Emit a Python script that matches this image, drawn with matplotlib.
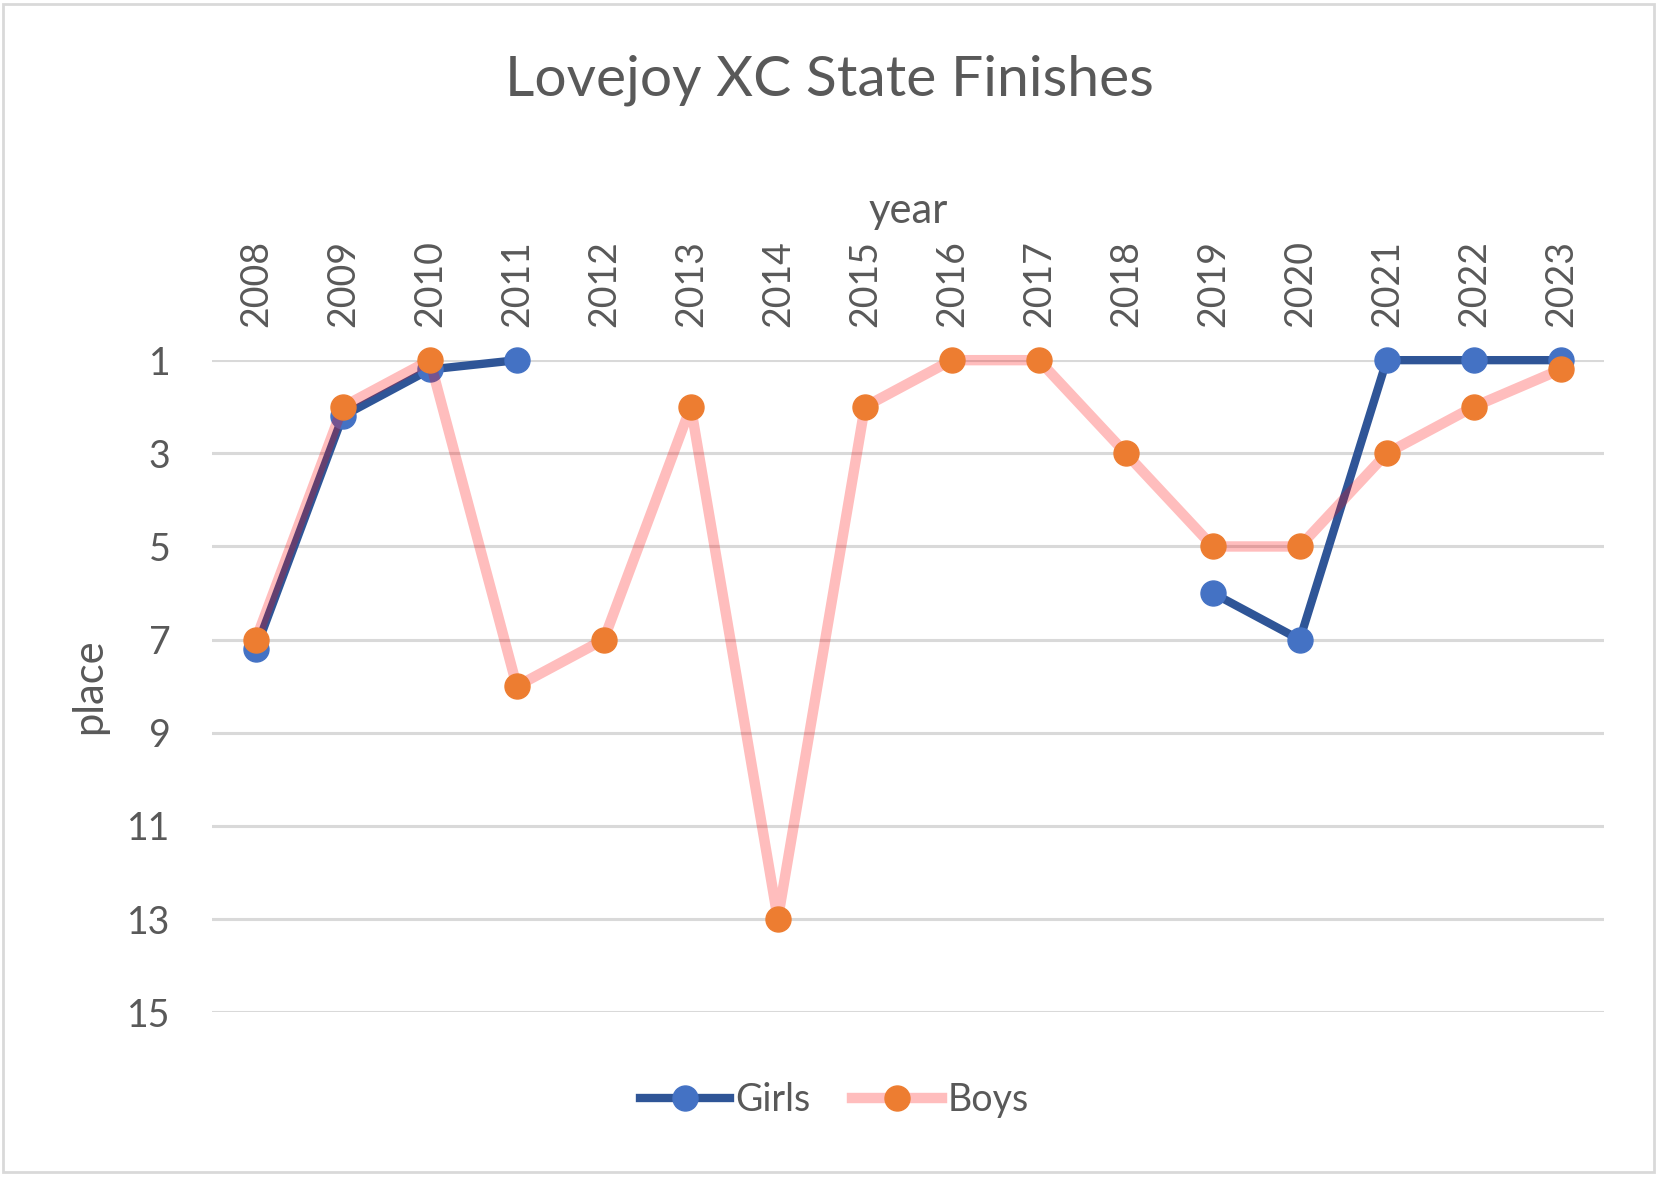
import numpy as np
import matplotlib
matplotlib.use("Agg")
import matplotlib.pyplot as plt
from matplotlib.patches import Rectangle

years = [str(y) for y in range(2008, 2024)]
girls = [7.2, 2.2, 1.2, 1, np.nan, np.nan, np.nan, np.nan, np.nan, np.nan, np.nan, 6, 7, 1, 1, 1]
boys = [7, 2, 1, 8, 7, 2, 13, 2, 1, 1, 3, 5, 5, 3, 2, 1.2]
yticks = [1, 3, 5, 7, 9, 11, 13, 15]

plt.rcParams['font.family'] = ['Lato', 'DejaVu Sans']
txt = '#595959'

fig = plt.figure(figsize=(16.59, 11.77), dpi=100)
ax = fig.add_axes([0.128, 0.140, 0.839, 0.554])

x = np.arange(len(years))
ax.plot(x, girls, color='#2F5597', lw=6, marker='o', ms=18,
        mfc='#4472C4', mec='#4472C4', label='Girls', zorder=3, clip_on=False)
ax.plot(x, boys, color=(1, 0, 0, 0.26), lw=7.5, marker='o', ms=18,
        mfc='#ED7D31', mec='#ED7D31', label='Boys', zorder=4, clip_on=False)

ax.set_xlim(-0.5, len(years) - 0.5)
ax.set_ylim(15, 1)
ax.set_yticks(yticks)
ax.set_yticklabels([str(v) for v in yticks])
ax.set_xticks(x)
ax.set_xticklabels(years, rotation=90)
ax.xaxis.tick_top()
ax.xaxis.set_label_position('top')
ax.tick_params(axis='both', length=0, labelsize=27, colors=txt)
ax.tick_params(axis='x', pad=24)
ax.tick_params(axis='y', pad=30)
ax.grid(axis='y', color='#D9D9D9', lw=2.2)
ax.set_axisbelow(True)
for s in ax.spines.values():
    s.set_visible(False)

ax.set_xlabel('year', fontsize=30, color=txt, labelpad=12)
ax.set_ylabel('place', fontsize=30, color=txt, labelpad=14)

fig.text(0.5, 0.932, 'Lovejoy XC State Finishes', ha='center', va='center',
         fontsize=41, color=txt)

leg = ax.legend(loc='center', bbox_to_anchor=(0.503, 0.065), bbox_transform=fig.transFigure,
                ncol=2, frameon=False, fontsize=27, handlelength=2.4,
                columnspacing=1.1, handletextpad=0.15, labelcolor=txt)

fig.patches.append(Rectangle((0.002, 0.004), 0.995, 0.993, transform=fig.transFigure,
                             fill=False, edgecolor='#D9D9D9', lw=2))

fig.savefig('out.png', dpi=100)
